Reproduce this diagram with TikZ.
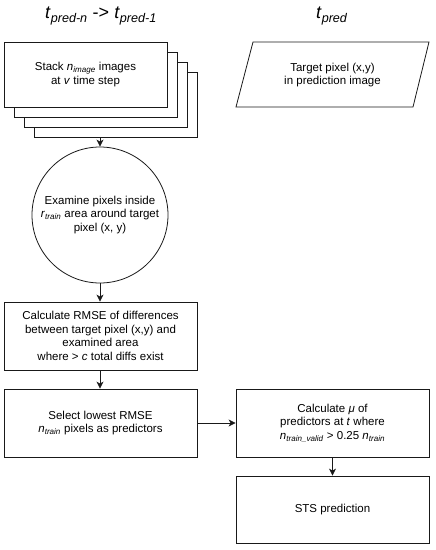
\documentclass[tikz,border=0pt]{standalone}
\usepackage{fontspec}
\setmainfont{Liberation Sans}
\usetikzlibrary{arrows.meta,shapes.geometric,calc}
\tikzset{
  box/.style={draw=black!90, line width=0.8pt, fill=white, inner sep=0pt, align=center,
    font=\fontsize{11.5}{13.5}\selectfont},
  arr/.style={draw=black!90, line width=0.8pt, -{Stealth[length=7pt,width=7pt,inset=2pt]}},
  ttl/.style={font=\fontsize{18}{21}\selectfont, inner sep=0pt}
}
\begin{document}
\begin{tikzpicture}[x=1pt,y=-1pt]
\useasboundingbox (0,0) rectangle (436,550);
% titles
\node[ttl] (tl) at (101,16) {\textit{t}\textsubscript{\textit{pred-n}} -> \textit{t}\textsubscript{\textit{pred-1}}};
\node[ttl] (tr) at (332,16) {\textit{t}\textsubscript{\textit{pred}}};
% stack
\node[box, minimum width=163pt, minimum height=65pt] (s4) at (115.5,104.5) {};
\node[box, minimum width=163pt, minimum height=65pt] (s3) at (105.5,94.5) {};
\node[box, minimum width=163pt, minimum height=65pt] (s2) at (95.5,84.5) {};
\node[box, minimum width=163pt, minimum height=65pt] (s1) at (85.5,74.5) {Stack \textit{n}\textsubscript{\textit{image}} images\\at \textit{v} time step};
% parallelogram
\coordinate (p1) at (253,42);
\coordinate (p2) at (429,42);
\coordinate (p3) at (413,107);
\coordinate (p4) at (236,107);
\draw[draw=black!90, line width=0.8pt] (p1) -- (p2) -- (p3) -- (p4) -- cycle;
\node[box, draw=none, fill=none] (tp) at (332.5,75) {Target pixel (x,y)\\in prediction image};
% circle
\node[box, circle, minimum size=136pt] (circ) at (100,215) {Examine pixels inside\\\textit{r}\textsubscript{\textit{train}} area around target\\pixel (x, y)};
% boxes
\node[box, minimum width=193pt, minimum height=68pt] (rmse) at (100.5,336) {Calculate RMSE of differences\\between target pixel (x,y) and\\examined area\\where > \textit{c} total diffs exist};
\node[box, minimum width=193pt, minimum height=68pt] (sel) at (100.5,423) {Select lowest RMSE\\\textit{n}\textsubscript{\textit{train}} pixels as predictors};
\node[box, minimum width=193pt, minimum height=68pt] (calc) at (332.5,423) {Calculate \textit{μ} of\\predictors at \textit{t} where\\\textit{n}\textsubscript{\textit{train\_valid}} > 0.25 \textit{n}\textsubscript{\textit{train}}};
\node[box, minimum width=193pt, minimum height=67pt] (sts) at (332.5,509.5) {STS prediction};
% arrows
\draw[arr] (circ.north |- s4.south) -- (circ.north);
\draw[arr] (circ.south) -- (circ.south |- rmse.north);
\draw[arr] (rmse.south -| circ.south) -- (sel.north -| circ.south);
\draw[arr] (sel.east) -- (calc.west);
\draw[arr] (calc.south) -- (sts.north);
\end{tikzpicture}
\end{document}
